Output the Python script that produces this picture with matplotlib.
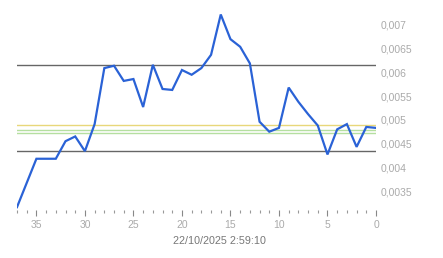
import matplotlib
matplotlib.use("Agg")
import matplotlib.pyplot as plt
from matplotlib.ticker import MultipleLocator, FuncFormatter

x_vals = list(range(37, -1, -1))
y_vals = [0.00316, 0.00367, 0.00418, 0.00418, 0.00418, 0.00455, 0.00465, 0.00434,
          0.00491, 0.00609, 0.00614, 0.00582, 0.00586, 0.00527, 0.00616, 0.00565,
          0.00563, 0.00605, 0.00595, 0.00609, 0.00637, 0.00722, 0.00670, 0.00654,
          0.00619, 0.00496, 0.00475, 0.00483, 0.00568, 0.00538, 0.00512, 0.00488,
          0.00427, 0.00480, 0.00491, 0.00443, 0.00485, 0.00483]
upper_level = 0.00615
lower_level = 0.00434
yellow_level = 0.00489
green_levels = [0.00478, 0.00472]
y_ticks = [0.0035, 0.004, 0.0045, 0.005, 0.0055, 0.006, 0.0065, 0.007]
x_label = "22/10/2025 2:59:10"

plt.rcParams['font.family'] = ['Liberation Sans', 'DejaVu Sans']
fig = plt.figure(figsize=(4.43, 2.58), dpi=100)
ax = fig.add_axes([17/443, 1 - 210/258, (376-17)/443, (210-5)/258])

ax.axhline(upper_level, color='#666666', lw=1.0)
ax.axhline(lower_level, color='#666666', lw=1.0)
ax.axhline(yellow_level, color='#e8d77a', lw=1.0)
for g in green_levels:
    ax.axhline(g, color='#b5dfa0', lw=1.0)
ax.plot(x_vals, y_vals, color='#2a62d6', lw=1.6, solid_joinstyle='miter')

ax.set_xlim(37, 0)
ax.set_ylim(0.0031, 0.00742)

for s in ax.spines.values():
    s.set_visible(False)

ax.yaxis.tick_right()
ax.set_yticks(y_ticks)
ax.yaxis.set_major_formatter(FuncFormatter(lambda v, p: ("%g" % v).replace('.', ',')))
ax.tick_params(axis='y', length=0, pad=3, labelsize=7.5, labelcolor='#aaaaaa')

ax.xaxis.set_major_locator(MultipleLocator(5))
ax.xaxis.set_minor_locator(MultipleLocator(1))
ax.tick_params(axis='x', which='major', length=4, width=0.8, color='#888888',
               labelsize=7.5, labelcolor='#aaaaaa', pad=3)
ax.tick_params(axis='x', which='minor', length=2, width=0.8, color='#999999')
ax.set_xlabel(x_label, fontsize=7.75, color='#777777')
ax.xaxis.set_label_coords((219.5 - 17) / 359, -(235.5 - 210) / 205)

fig.savefig("out.png", dpi=100)
